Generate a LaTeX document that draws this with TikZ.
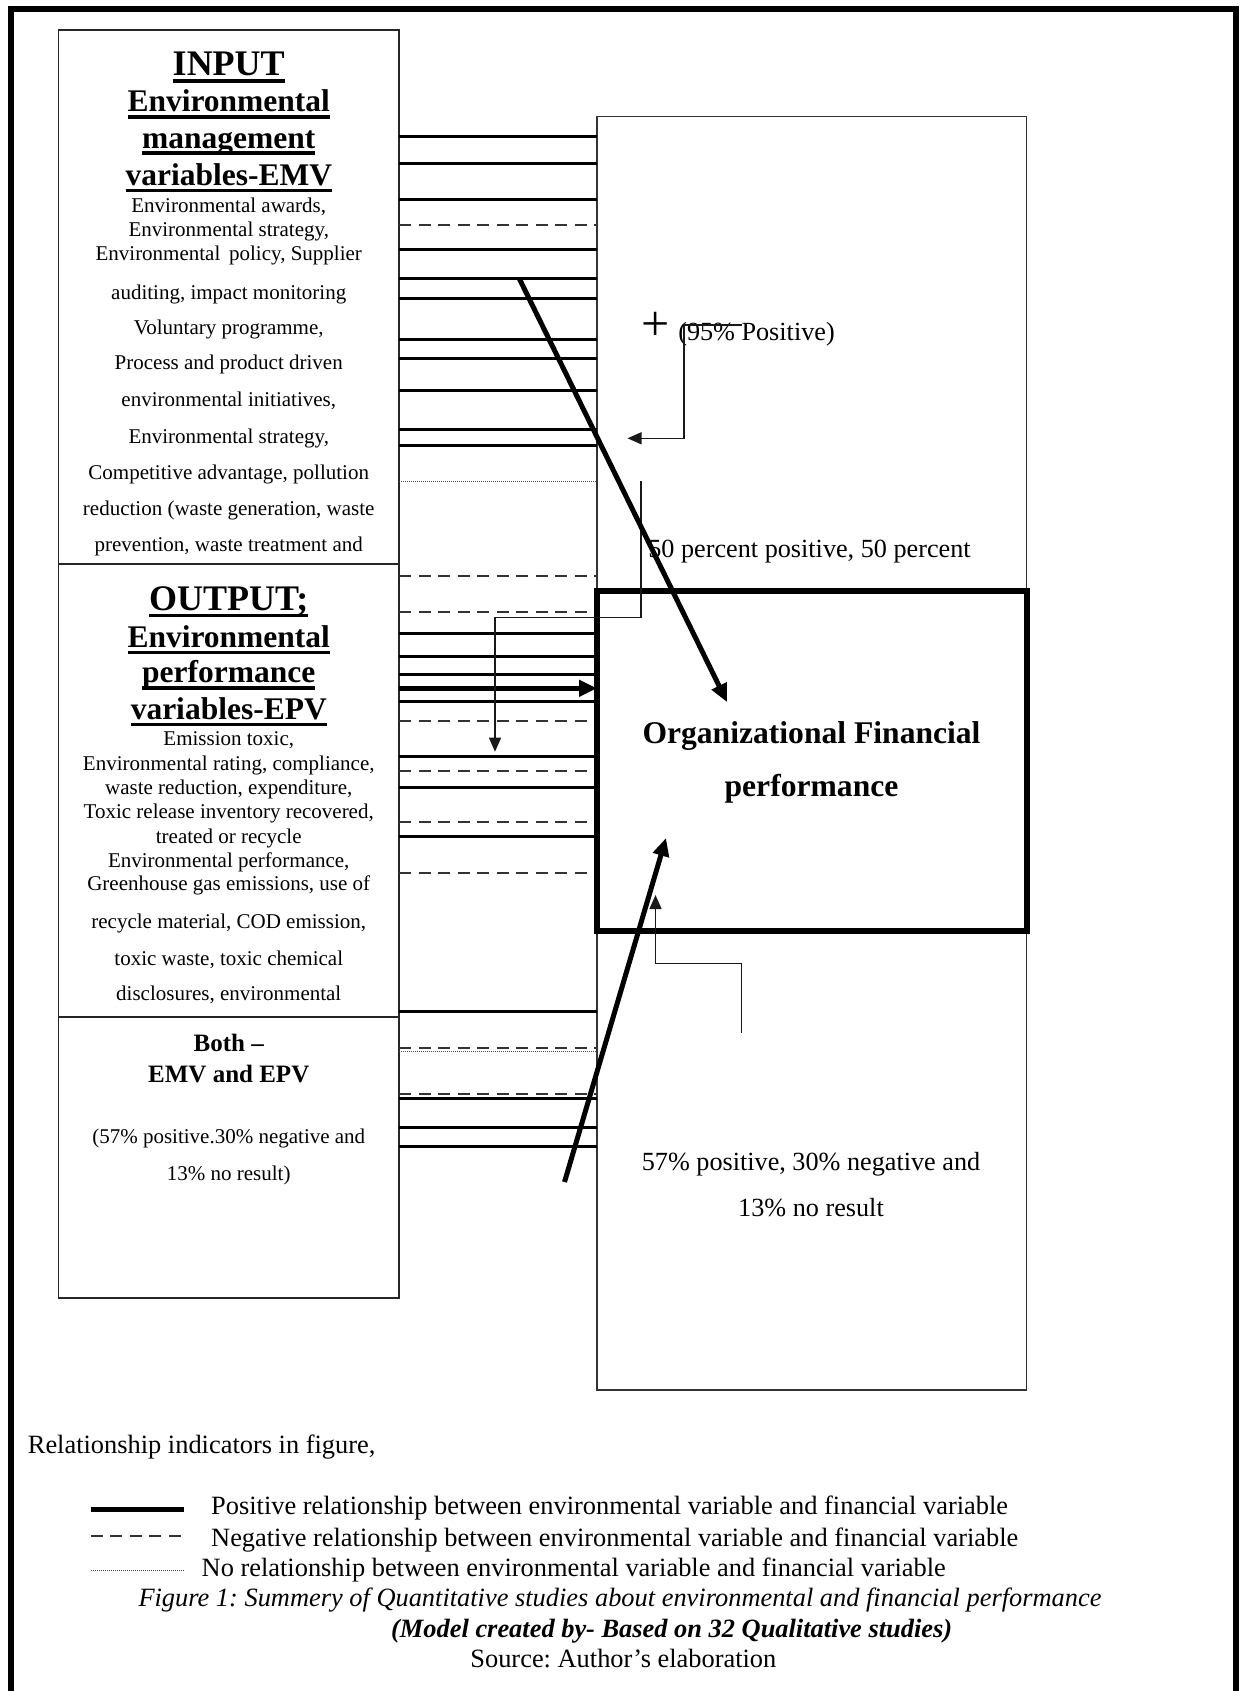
\documentclass[tikz,border=0pt]{standalone}
\usepackage{fontspec}
\setmainfont{Liberation Serif}
\usetikzlibrary{arrows.meta}
\frenchspacing
\newcommand\fsz[1]{\fontsize{#1}{#1}\selectfont}
\newsavebox\ulbox
\newcommand\ulh[1]{\sbox\ulbox{#1}\rlap{\rule[-7pt]{\wd\ulbox}{3.5pt}}\usebox\ulbox}
\begin{document}
\begin{tikzpicture}[x=1pt,y=-1pt,
  boxl/.style={draw=black!85,line width=1.8pt,inner sep=0pt,outer sep=0pt,anchor=north west},
  boxr/.style={draw=black!80,line width=1.4pt,inner sep=0pt,outer sep=0pt,anchor=north west},
  finstyle/.style={draw=black,line width=6pt,inner sep=0pt,outer sep=0pt,anchor=north west},
  posline/.style={draw=black,line width=3pt},
  negline/.style={draw=black!80,line width=2pt,dash pattern=on 12pt off 7.5pt},
  nilline/.style={draw=black!70,line width=1pt,dash pattern=on 1pt off 1pt},
  bigarrow/.style={draw=black,line width=5pt,-{Triangle[length=18pt,width=16pt]}},
  thinarrow/.style={draw=black!90,line width=1.4pt,-{Triangle[length=14pt,width=12pt]}},
  head/.style={anchor=base,inner sep=0pt,font=\fsz{31.5}\bfseries},
  bighead/.style={anchor=base,inner sep=0pt,font=\fsz{36}\bfseries},
  bothhead/.style={anchor=base,inner sep=0pt,font=\fsz{25}\bfseries},
  lt/.style={anchor=base,inner sep=0pt,font=\fsz{21}},
  rt/.style={anchor=base,inner sep=0pt,font=\fsz{26.2}},
  fint/.style={anchor=base,inner sep=0pt,font=\fsz{31.6}\bfseries},
  legtext/.style={anchor=base west,inner sep=0pt,font=\fsz{26.4}},
]
\useasboundingbox (0,0) rectangle (1239,1691);
% outer frame
\coordinate (fbl) at (10.5,1700);
\coordinate (ftl) at (10.5,9);
\coordinate (ftr) at (1236,9);
\coordinate (fbr) at (1236,1700);
\draw[line width=6pt] (fbl) -- (ftl) -- (ftr) -- (fbr);

% boxes
\node[boxl,minimum width=340.5pt,minimum height=534pt] (inbox) at (58.5,30.3) {};
\node[boxl,minimum width=340.5pt,minimum height=452.4pt] (outbox) at (58.5,564.3) {};
\node[boxl,minimum width=340.5pt,minimum height=281pt] (bothbox) at (58.5,1016.7) {};
\node[boxr,minimum width=429.7pt,minimum height=1273.3pt] (rbox) at (597,116.7) {};

% connectors: input section
\foreach \yy/\st in {136.7/posline,163/posline,199.5/posline,224.8/negline,249/posline,278/posline,298.3/posline,339/posline,358.8/posline,390.5/posline,429.6/posline,445.9/posline,481.4/nilline}
  \draw[\st] (inbox.east |- 0,\yy) -- (rbox.west |- 0,\yy);
% output section
\foreach \yy/\st in {575.7/negline,611.7/negline,633.3/posline,656.7/posline,674/posline,701.7/posline,720.7/negline,756/posline,770.7/negline,787.7/posline,821.7/negline,836.7/posline,873.3/negline,1011.7/posline}
  \draw[\st] (outbox.east |- 0,\yy) -- (rbox.west |- 0,\yy);
% both section
\foreach \yy/\st in {1047.7/negline,1051.7/nilline,1094/negline,1098.3/posline,1127.7/posline,1146.7/posline}
  \draw[\st] (bothbox.east |- 0,\yy) -- (rbox.west |- 0,\yy);

% financial performance box
\node[finstyle,minimum width=429.5pt,minimum height=340pt] (finbox) at (597,591) {};
\node[fint] (fin1) at (811.5,743.3) {Organizational Financial};
\node[fint] (fin2) at (811.5,796.7) {performance};

% thick horizontal arrow
\draw[bigarrow,line width=4.5pt] (outbox.east |- 0,688.3) -- (finbox.west |- 0,688.3);

% left box texts
\node[bighead] (inh1) at (228.75,75.8) {\ulh{INPUT}};
\node[head] (inh2) at (228.75,111.7) {\ulh{Environmental}};
\node[head] (inh3) at (228.75,148) {\ulh{management}};
\node[head] (inh4) at (228.75,185) {\ulh{variables-EMV}};
\node[lt] (in1) at (228.75,212.3) {Environmental awards,};
\node[lt] (in2) at (228.75,236.4) {Environmental strategy,};
\node[lt] (in3) at (228.75,260.4) {Environmental\, policy, Supplier};
\node[lt] (in4) at (228.75,299.3) {auditing, impact monitoring};
\node[lt] (in5) at (228.75,334.4) {Voluntary programme,};
\node[lt] (in6) at (228.75,369.6) {Process and product driven};
\node[lt] (in7) at (228.75,406.6) {environmental initiatives,};
\node[lt] (in8) at (228.75,443.6) {Environmental strategy,};
\node[lt] (in9) at (228.75,479.8) {Competitive advantage, pollution};
\node[lt] (in10) at (228.75,515.7) {reduction (waste generation, waste};
\node[lt] (in11) at (228.75,551.6) {prevention, waste treatment and};

\node[bighead] (outh1) at (228.75,610) {\ulh{OUTPUT;}};
\node[head] (outh2) at (228.75,647.3) {\ulh{Environmental}};
\node[head] (outh3) at (228.75,682.7) {\ulh{performance}};
\node[head] (outh4) at (228.75,719.3) {\ulh{variables-EPV}};
\node[lt] (out1) at (228.75,745.3) {Emission toxic,};
\node[lt] (out2) at (228.75,770.3) {Environmental rating, compliance,};
\node[lt] (out3) at (228.75,794.7) {waste reduction, expenditure,};
\node[lt] (out4) at (228.75,818.7) {Toxic release inventory recovered,};
\node[lt] (out5) at (228.75,843) {treated or recycle};
\node[lt] (out6) at (228.75,867) {Environmental performance,};
\node[lt] (out7) at (228.75,890.3) {Greenhouse gas emissions, use of};
\node[lt] (out8) at (228.75,928.7) {recycle material, COD emission,};
\node[lt] (out9) at (228.75,965.3) {toxic waste, toxic chemical};
\node[lt] (out10) at (228.75,1000.3) {disclosures, environmental};

\node[bothhead] (both1) at (228.75,1051) {Both –};
\node[bothhead] (both2) at (228.75,1082.7) {EMV and EPV};
\node[lt] (both3) at (228.75,1143.3) {(57\% positive.30\% negative and};
\node[lt] (both4) at (228.75,1180) {13\% no result)};

% right box texts
\node[inner sep=0pt,font=\fsz{50}] (plus) at (655.7,326) {+};
\node[rt] (pct95) at (756.5,340.7) {(95\% Positive)};
\node[rt] (pct50) at (809.5,557.3) {50 percent positive, 50 percent};
\node[rt] (pct57a) at (811,1170) {57\% positive, 30\% negative and};
\node[rt] (pct57b) at (811,1216) {13\% no result};

% thin elbow arrows
\coordinate (e1s) at (742,325);
\coordinate (e1e) at (627.5,438.3);
\draw[thinarrow] (e1s) -- (684,325) -- (684,438.3) -- (e1e);
\coordinate (e2s) at (641,481);
\coordinate (e2e) at (495,751.7);
\draw[thinarrow] (e2s) -- (641,617.3) -- (495,617.3) -- (e2e);
\coordinate (e3s) at (741.5,1033);
\coordinate (e3e) at (655.5,895);
\draw[thinarrow] (e3s) -- (741.5,963.3) -- (655.5,963.3) -- (e3e);

% thick diagonal arrows
\coordinate (a1s) at (519,278);
\coordinate (a1e) at (727,702);
\draw[bigarrow] (a1s) -- (a1e);
\coordinate (a2s) at (564.5,1182);
\coordinate (a2e) at (666,838);
\draw[bigarrow] (a2s) -- (a2e);

% legend
\node[legtext] (rel) at (27.7,1453.3) {Relationship indicators in figure,};
\coordinate (l1a) at (90.9,1509.3);
\coordinate (l1b) at (184.1,1509.3);
\draw[posline,line width=4.5pt] (l1a) -- (l1b);
\coordinate (l2a) at (90.9,1536);
\coordinate (l2b) at (184.1,1536);
\draw[negline] (l2a) -- (l2b);
\coordinate (l3a) at (90.9,1570);
\coordinate (l3b) at (184.1,1570);
\draw[nilline] (l3a) -- (l3b);
\node[legtext] (leg1) at (211,1514) {Positive relationship between environmental variable and financial variable};
\node[legtext] (leg2) at (211,1546.7) {Negative relationship between environmental variable and financial variable};
\node[legtext] (leg3) at (201.5,1576.7) {No relationship between environmental variable and financial variable};
\node[legtext,font=\fsz{26.4}\itshape] (cap) at (138.3,1606.5) {Figure 1: Summery of Quantitative studies about environmental and financial performance};
\node[legtext,font=\fsz{26.4}\bfseries\itshape] (model) at (391,1637) {(Model created by- Based on 32 Qualitative studies)};
\node[anchor=base,inner sep=0pt,font=\fsz{26.4}] (src) at (623.4,1667) {Source: Author’s elaboration};
\end{tikzpicture}
\end{document}
